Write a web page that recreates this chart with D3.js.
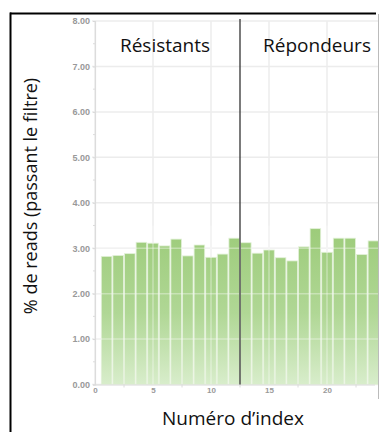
<!DOCTYPE html>
<html>
<head>
<meta charset="utf-8">
<script src="https://cdn.jsdelivr.net/npm/d3@7"></script>
<style>
  html, body { margin: 0; padding: 0; background: #fff; }
  svg { display: block; }
</style>
</head>
<body>
<svg id="chart" width="380" height="432"></svg>
<script>
// Percentage of reads passing filter, per sample index
const indexes = [1, 2, 3, 4, 5, 6, 7, 8, 9, 10, 11, 12, 13, 14, 15, 16, 17, 18, 19, 20, 21, 22, 23, 24];
const readPct = [2.82, 2.84, 2.88, 3.13, 3.11, 3.05, 3.20, 2.83, 3.07, 2.80, 2.87, 3.22,
                 3.12, 2.89, 2.96, 2.79, 2.72, 3.03, 3.43, 2.91, 3.22, 3.22, 2.86, 3.16];
const yTicks = [0, 1, 2, 3, 4, 5, 6, 7, 8];
const xTicks = [0, 5, 10, 15, 20];
const groupSplit = 12.5;
const groupLabels = ["Résistants", "Répondeurs"];
const yTitle = "% de reads (passant le filtre)";
const xTitle = "Numéro d’index";

const svg = d3.select("#chart");
const plotLeft = 95, plotRight = 378, plotTop = 21, plotBottom = 384.5;

const x = d3.scaleLinear().domain([0, 25]).range([plotLeft, plotLeft + 25 * 11.6]);
const y = d3.scaleLinear().domain([0, 8]).range([plotBottom, plotTop]);

const defs = svg.append("defs");
const grad = defs.append("linearGradient")
  .attr("id", "barFill").attr("x1", 0).attr("x2", 0)
  .attr("gradientUnits", "userSpaceOnUse")
  .attr("y1", y(3.5)).attr("y2", y(0));
grad.append("stop").attr("offset", 0).attr("stop-color", "#9ccb79");
grad.append("stop").attr("offset", 0.55).attr("stop-color", "#b0d795");
grad.append("stop").attr("offset", 1).attr("stop-color", "#d8edcb");
defs.append("clipPath").attr("id", "plotClip")
  .append("rect").attr("x", plotLeft - 6).attr("y", 0).attr("width", plotRight - plotLeft + 6).attr("height", 432);

const plot = svg.append("g").attr("clip-path", "url(#plotClip)");

// background grid
plot.append("g").selectAll("line").data(yTicks).join("line")
  .attr("x1", plotLeft - 3).attr("x2", plotRight)
  .attr("y1", d => y(d)).attr("y2", d => y(d))
  .attr("stroke", "#ececec").attr("stroke-width", 1.5);
plot.append("g").selectAll("line").data(xTicks).join("line")
  .attr("x1", d => x(d)).attr("x2", d => x(d))
  .attr("y1", plotTop).attr("y2", plotBottom)
  .attr("stroke", "#ececec").attr("stroke-width", 1.5);

// bars
plot.append("g").selectAll("rect").data(indexes).join("rect")
  .attr("x", (d) => x(d - 0.5) + 0.5)
  .attr("width", x(1) - x(0) - 1)
  .attr("y", (d, i) => y(readPct[i]))
  .attr("height", (d, i) => y(0) - y(readPct[i]))
  .attr("fill", "url(#barFill)")
  .attr("stroke", "#e3f1d9").attr("stroke-width", 0.8);

// grid showing through the bars
plot.append("g").selectAll("line").data(yTicks.slice(1, 4)).join("line")
  .attr("x1", plotLeft).attr("x2", plotRight)
  .attr("y1", d => y(d)).attr("y2", d => y(d))
  .attr("stroke", "#ffffff").attr("stroke-opacity", 0.35).attr("stroke-width", 1.5);
plot.append("g").selectAll("line").data(xTicks.slice(1)).join("line")
  .attr("x1", d => x(d)).attr("x2", d => x(d))
  .attr("y1", y(3.5)).attr("y2", plotBottom)
  .attr("stroke", "#ffffff").attr("stroke-opacity", 0.35).attr("stroke-width", 1.5);

// axes
const yAxis = d3.axisLeft(y).tickValues(yTicks).tickFormat(d3.format(".2f")).tickSize(2).tickPadding(3);
const yg = svg.append("g").attr("transform", `translate(${plotLeft},0)`).call(yAxis);
const xAxis = d3.axisBottom(x).tickValues(xTicks).tickFormat(d3.format("d")).tickSize(0).tickPadding(3);
const xg = svg.append("g").attr("transform", `translate(0,${plotBottom})`).call(xAxis);
[yg, xg].forEach(g => {
  g.select(".domain").attr("stroke", "#dcdcdc").attr("stroke-width", 1.2);
  g.selectAll(".tick line").attr("stroke", "#d8d8d8");
  g.selectAll("text").attr("fill", "#999")
    .style("font-family", "Arial, 'Liberation Sans', sans-serif")
    .style("font-size", "9px").style("font-weight", "bold");
});
xg.selectAll("text").style("font-size", "8px");
xg.select(".domain").attr("d", `M${plotLeft},0.5H${plotRight - 3}`);

// minor ticks
svg.append("g").selectAll("line").data(yTicks.slice(0, -1).map(d => d + 0.5)).join("line")
  .attr("x1", plotLeft - 2).attr("x2", plotLeft).attr("y1", d => y(d)).attr("y2", d => y(d))
  .attr("stroke", "#dcdcdc");
svg.append("g").selectAll("line").data([2.5, 7.5, 12.5, 17.5, 22.5]).join("line")
  .attr("x1", d => x(d)).attr("x2", d => x(d)).attr("y1", plotBottom).attr("y2", plotBottom + 3)
  .attr("stroke", "#dcdcdc");

// group divider
svg.append("line")
  .attr("x1", x(groupSplit)).attr("x2", x(groupSplit))
  .attr("y1", 19).attr("y2", plotBottom)
  .attr("stroke", "#333").attr("stroke-width", 1.3);

// group labels
const labelFont = "'Open Sans', 'Noto Sans', sans-serif";
svg.append("text").text(groupLabels[0])
  .attr("x", 165).attr("y", 52).attr("text-anchor", "middle")
  .style("font-family", labelFont).style("font-size", "19px").attr("fill", "#111");
svg.append("text").text(groupLabels[1])
  .attr("x", 317).attr("y", 52).attr("text-anchor", "middle")
  .style("font-family", labelFont).style("font-size", "19px").attr("fill", "#111");

// axis titles
svg.append("text").text(yTitle)
  .attr("transform", "translate(37,196) rotate(-90)").attr("text-anchor", "middle")
  .style("font-family", labelFont).style("font-size", "18px").attr("fill", "#111");
svg.append("text").text(xTitle)
  .attr("x", 233).attr("y", 425).attr("text-anchor", "middle")
  .style("font-family", labelFont).style("font-size", "19px").attr("fill", "#111");

// frame
svg.append("line").attr("x1", 10).attr("x2", 376).attr("y1", 13.5).attr("y2", 13.5)
  .attr("stroke", "#000").attr("stroke-width", 2);
svg.append("line").attr("x1", 10.5).attr("x2", 10.5).attr("y1", 12.5).attr("y2", 432)
  .attr("stroke", "#000").attr("stroke-width", 2);
svg.append("line").attr("x1", 378.5).attr("x2", 378.5).attr("y1", 14).attr("y2", 399)
  .attr("stroke", "#bbb").attr("stroke-width", 1);
</script>
</body>
</html>
